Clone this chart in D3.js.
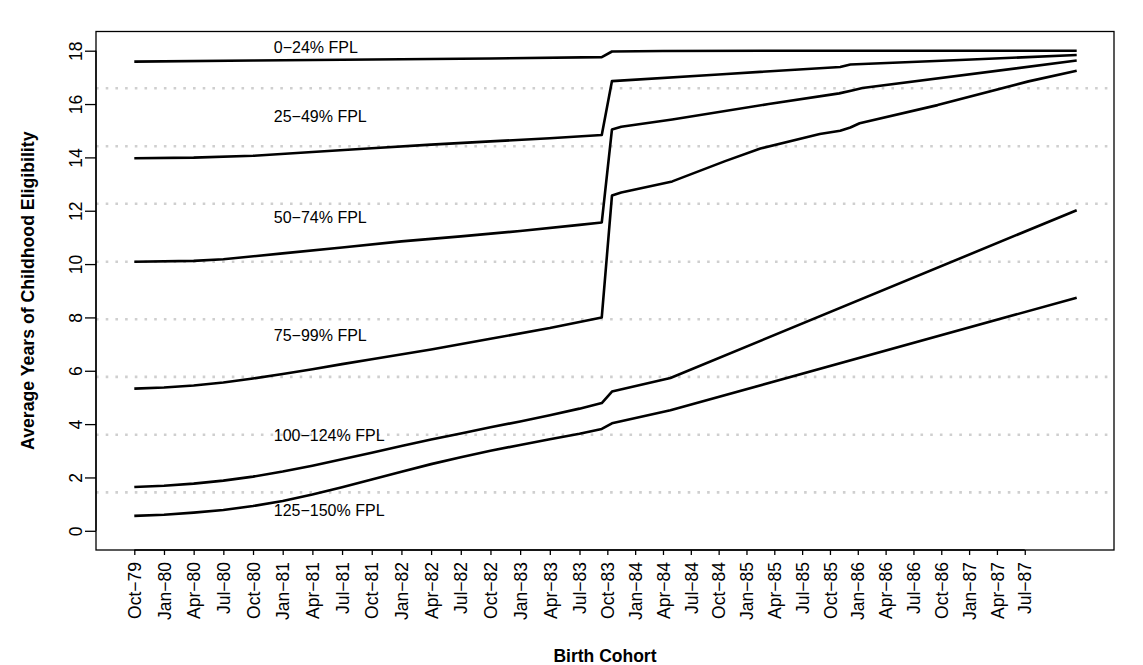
<!DOCTYPE html>
<html lang="en">
<head>
  <meta charset="UTF-8">
  <title>Average Years of Childhood Eligibility by Birth Cohort</title>
  <script src="https://cdnjs.cloudflare.com/ajax/libs/d3/7.8.5/d3.min.js"></script>
  <style>
    body { margin: 0; background: #fff; }
    text { font-family: "Liberation Sans", Arial, Helvetica, sans-serif; fill: #000; }
  </style>
</head>
<body>
  <svg width="1143" height="665"></svg>
  <script>
    // x tick labels, one per quarter starting Oct-79 (month index 0)
    const tickLabels = ['Oct−79', 'Jan−80', 'Apr−80', 'Jul−80', 'Oct−80', 'Jan−81', 'Apr−81', 'Jul−81',
      'Oct−81', 'Jan−82', 'Apr−82', 'Jul−82', 'Oct−82', 'Jan−83', 'Apr−83', 'Jul−83',
      'Oct−83', 'Jan−84', 'Apr−84', 'Jul−84', 'Oct−84', 'Jan−85', 'Apr−85', 'Jul−85',
      'Oct−85', 'Jan−86', 'Apr−86', 'Jul−86', 'Oct−86', 'Jan−87', 'Apr−87', 'Jul−87'];
    const tickMonths = tickLabels.map((d, i) => i * 3);

    const yTicks = [0, 2, 4, 6, 8, 10, 12, 14, 16, 18];

    // dotted reference lines between the groups
    const refLines = [1.44, 3.6, 5.77, 7.93, 10.09, 12.26, 14.42, 16.59];

    // series: [month index since Oct-79, average years of eligibility]
    const fpl0_24 = [[0, 17.59], [12, 17.63], [24, 17.67], [36, 17.71], [47.4, 17.76],
      [48.5, 17.97], [54, 17.99], [66, 18.0], [98.6, 18.0]];
    const fpl25_49 = [[0, 13.97], [6, 13.99], [12, 14.06], [18, 14.2], [24, 14.34], [30, 14.48],
      [36, 14.6], [42, 14.72], [47.4, 14.84], [48.5, 16.86], [60, 17.11], [73.1, 17.39],
      [74.2, 17.48], [86, 17.65], [98.6, 17.84]];
    const fpl50_74 = [[0, 10.09], [6, 10.12], [9, 10.18], [15, 10.4], [21, 10.62], [27, 10.85],
      [33, 11.04], [39, 11.24], [45, 11.47], [47.4, 11.56], [48.5, 15.05], [49.5, 15.15],
      [55, 15.42], [65.4, 16.0], [73, 16.4], [74.5, 16.52], [75.5, 16.6], [98.6, 17.63]];
    const fpl75_99 = [[0, 5.33], [3, 5.37], [6, 5.45], [9, 5.56], [12, 5.71], [15, 5.88], [18, 6.06],
      [21, 6.25], [24, 6.43], [30, 6.8], [36, 7.2], [42, 7.6], [47.4, 8.0], [48.5, 12.57],
      [49.5, 12.68], [55, 13.1], [60.7, 13.86], [64.5, 14.33], [70.9, 14.88], [73.1, 15.0],
      [74.2, 15.12], [75.2, 15.28], [83.6, 15.96], [93.4, 16.85], [98.6, 17.25]];
    const fpl100_124 = [[0, 1.64], [3, 1.69], [6, 1.77], [9, 1.88], [12, 2.03], [15, 2.22],
      [18, 2.44], [21, 2.68], [24, 2.93], [27, 3.18], [30, 3.42], [33, 3.65], [36, 3.88],
      [39, 4.1], [42, 4.33], [45, 4.58], [47.4, 4.79], [48.5, 5.22], [54.8, 5.73], [98.6, 12.02]];
    const fpl125_150 = [[0, 0.56], [3, 0.6], [6, 0.68], [9, 0.78], [12, 0.93], [15, 1.12],
      [18, 1.36], [21, 1.63], [24, 1.92], [27, 2.21], [30, 2.5], [33, 2.76], [36, 3.0],
      [39, 3.22], [42, 3.43], [45, 3.64], [47.4, 3.82], [48.5, 4.03], [54.8, 4.52], [98.6, 8.74]];

    const series = [fpl0_24, fpl25_49, fpl50_74, fpl75_99, fpl100_124, fpl125_150];
    const seriesNames = ['0−24% FPL', '25−49% FPL', '50−74% FPL', '75−99% FPL', '100−124% FPL', '125−150% FPL'];
    // label anchors (month, value) - left aligned
    const labelMonth = 14.1;
    const labelValues = [18.12, 15.53, 11.74, 7.32, 3.6, 0.78];

    const box = { left: 96, right: 1114, top: 31.5, bottom: 550 };

    const svg = d3.select('svg');

    // cohorts before Oct-83 are spaced slightly wider than the later ones
    const x = d3.scaleLinear()
      .domain([0, 45, 98.6])
      .range([134.3, 579.5, 1076.7]);

    const y = d3.scaleLinear()
      .domain([-0.72, 18.72])
      .range([box.bottom, box.top]);

    // dotted grey reference lines
    svg.append('g')
      .selectAll('line')
      .data(refLines)
      .join('line')
      .attr('x1', box.left)
      .attr('x2', box.right)
      .attr('y1', d => y(d))
      .attr('y2', d => y(d))
      .attr('stroke', '#cfcfcf')
      .attr('stroke-width', 2.6)
      .attr('stroke-dasharray', '2.6 7.1');

    // series lines
    const line = d3.line()
      .x(d => x(d[0]))
      .y(d => y(d[1]));

    svg.append('g')
      .selectAll('path')
      .data(series)
      .join('path')
      .attr('d', line)
      .attr('fill', 'none')
      .attr('stroke', '#000')
      .attr('stroke-width', 2.6)
      .attr('stroke-linejoin', 'round');

    // series labels
    svg.append('g')
      .selectAll('text')
      .data(seriesNames)
      .join('text')
      .attr('x', x(labelMonth))
      .attr('y', (d, i) => y(labelValues[i]))
      .attr('dy', '0.36em')
      .attr('font-size', 16)
      .text(d => d);

    // box
    svg.append('rect')
      .attr('x', box.left)
      .attr('y', box.top)
      .attr('width', box.right - box.left)
      .attr('height', box.bottom - box.top)
      .attr('fill', 'none')
      .attr('stroke', '#000')
      .attr('stroke-width', 1.3);

    // y axis
    const yAxis = svg.append('g')
      .attr('transform', `translate(${box.left},0)`)
      .call(d3.axisLeft(y).tickValues(yTicks).tickSize(11).tickSizeOuter(0).tickFormat(d3.format('d')));
    yAxis.select('.domain')
      .attr('d', `M0,${y(0)}V${y(18)}`)
      .attr('stroke-width', 1.3);
    yAxis.selectAll('.tick line').attr('stroke-width', 1.3);
    yAxis.selectAll('.tick text')
      .attr('x', null)
      .attr('dy', null)
      .attr('transform', 'translate(-14.5,0) rotate(-90)')
      .attr('text-anchor', 'middle')
      .attr('font-family', null)
      .attr('font-size', 17.5);

    // x axis
    const xAxis = svg.append('g')
      .attr('transform', `translate(0,${box.bottom})`)
      .call(d3.axisBottom(x).tickValues(tickMonths).tickSize(5).tickSizeOuter(0)
        .tickFormat((d, i) => tickLabels[i]));
    xAxis.select('.domain')
      .attr('d', `M${x(tickMonths[0])},0H${x(tickMonths[tickMonths.length - 1])}`)
      .attr('stroke-width', 1.3);
    xAxis.selectAll('.tick line').attr('stroke-width', 1.3);
    xAxis.selectAll('.tick text')
      .attr('y', null)
      .attr('dy', null)
      .attr('transform', 'translate(6.2,12) rotate(-90)')
      .attr('text-anchor', 'end')
      .attr('font-family', null)
      .attr('font-size', 17.5);

    // axis titles
    svg.append('text')
      .attr('x', (box.left + box.right) / 2)
      .attr('y', 662)
      .attr('text-anchor', 'middle')
      .attr('font-weight', 'bold')
      .attr('font-size', 17.5)
      .text('Birth Cohort');

    svg.append('text')
      .attr('transform', `translate(34,${(box.top + box.bottom) / 2}) rotate(-90)`)
      .attr('text-anchor', 'middle')
      .attr('font-weight', 'bold')
      .attr('font-size', 17.7)
      .text('Average Years of Childhood Eligibility');
  </script>
</body>
</html>
